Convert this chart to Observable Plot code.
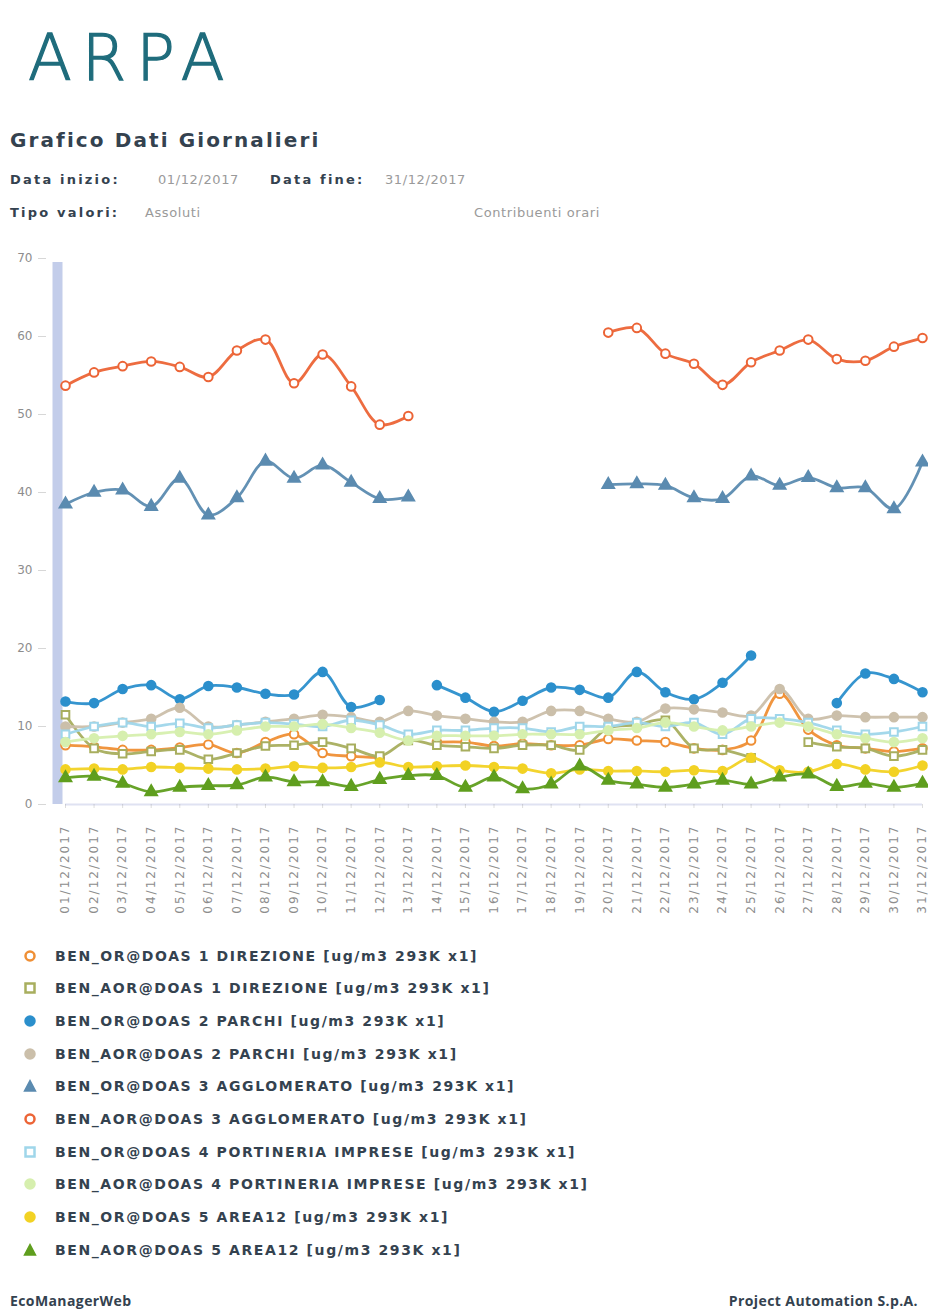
<!DOCTYPE html>
<html><head><meta charset="utf-8">
<script src="https://cdn.jsdelivr.net/npm/d3@7"></script>
<script src="https://cdn.jsdelivr.net/npm/@observablehq/plot@0.6"></script>
<style>
body{margin:0;background:#fff;width:928px;height:1312px;position:relative;overflow:hidden;font-family:"DejaVu Sans",Verdana,sans-serif;}
.abs{position:absolute;white-space:nowrap;line-height:1;}
.logo{font-family:"DejaVu Sans",sans-serif;font-weight:200;font-size:64px;color:#1f6c7c;letter-spacing:10px;-webkit-text-stroke:1.3px #1f6c7c;}
.title{font-weight:bold;font-size:20px;color:#34424f;letter-spacing:2.1px;}
.lab{font-weight:bold;font-size:13px;color:#34424f;letter-spacing:2.2px;}
.val{font-size:13px;color:#9a9a9a;letter-spacing:0.6px;}
.leg{font-weight:bold;font-size:14px;color:#34424f;letter-spacing:1.6px;}
.foot{font-family:"Open Sans",sans-serif;font-weight:700;font-size:14px;color:#34424f;letter-spacing:0.4px;}
</style></head><body>
<div class="abs logo" style="left:28px;top:26px;">ARPA</div>
<div class="abs title" style="left:10px;top:130px">Grafico Dati Giornalieri</div>
<div class="abs lab" style="left:10px;top:173px">Data inizio:</div>
<div class="abs val" style="left:158px;top:173px">01/12/2017</div>
<div class="abs lab" style="left:270px;top:173px">Data fine:</div>
<div class="abs val" style="left:385px;top:173px">31/12/2017</div>
<div class="abs lab" style="left:10px;top:206px">Tipo valori:</div>
<div class="abs val" style="left:145px;top:206px">Assoluti</div>
<div class="abs val" style="left:474px;top:206px">Contribuenti orari</div>
<div id="chart" class="abs" style="left:0;top:240px"></div>
<div id="legend" class="abs" style="left:0;top:947px;width:928px;"></div>
<div class="abs foot" style="left:10px;top:1294px">EcoManagerWeb</div>
<div class="abs foot" style="right:10px;top:1294px">Project Automation S.p.A.</div>
<script>
// ---- data ----
const dates = ["01/12/2017","02/12/2017","03/12/2017","04/12/2017","05/12/2017","06/12/2017","07/12/2017","08/12/2017","09/12/2017","10/12/2017","11/12/2017","12/12/2017","13/12/2017","14/12/2017","15/12/2017","16/12/2017","17/12/2017","18/12/2017","19/12/2017","20/12/2017","21/12/2017","22/12/2017","23/12/2017","24/12/2017","25/12/2017","26/12/2017","27/12/2017","28/12/2017","29/12/2017","30/12/2017","31/12/2017"];
const yTicks = [0,10,20,30,40,50,60,70];
const seriesNames = [
  "BEN_OR@DOAS 1 DIREZIONE [ug/m3 293K x1]",
  "BEN_AOR@DOAS 1 DIREZIONE [ug/m3 293K x1]",
  "BEN_OR@DOAS 2 PARCHI [ug/m3 293K x1]",
  "BEN_AOR@DOAS 2 PARCHI [ug/m3 293K x1]",
  "BEN_OR@DOAS 3 AGGLOMERATO [ug/m3 293K x1]",
  "BEN_AOR@DOAS 3 AGGLOMERATO [ug/m3 293K x1]",
  "BEN_OR@DOAS 4 PORTINERIA IMPRESE [ug/m3 293K x1]",
  "BEN_AOR@DOAS 4 PORTINERIA IMPRESE [ug/m3 293K x1]",
  "BEN_OR@DOAS 5 AREA12 [ug/m3 293K x1]",
  "BEN_AOR@DOAS 5 AREA12 [ug/m3 293K x1]"
];
const or1  = [7.6,7.4,7.0,7.0,7.3,7.7,6.6,8.0,9.0,6.6,6.2,6.0,null,8.0,8.0,7.5,7.8,7.6,7.6,8.4,8.2,8.0,7.2,7.0,8.2,14.2,9.6,7.6,7.2,6.8,7.2];
const aor1 = [11.5,7.2,6.5,6.8,7.0,5.8,6.6,7.5,7.6,8.0,7.2,6.2,8.2,7.6,7.4,7.2,7.6,7.6,7.0,9.8,10.2,10.8,7.2,7.0,6.0,null,8.0,7.4,7.2,6.2,7.0];
const or2  = [13.2,13.0,14.8,15.3,13.5,15.2,15.0,14.2,14.1,17.0,12.5,13.4,null,15.3,13.7,11.9,13.3,15.0,14.7,13.7,17.0,14.4,13.5,15.6,19.1,null,null,13.0,16.8,16.1,14.4];
const aor2 = [10.0,10.0,10.5,11.0,12.4,10.0,10.2,10.6,11.0,11.5,11.2,10.6,12.0,11.4,11.0,10.6,10.6,12.0,12.0,11.0,10.6,12.3,12.2,11.8,11.4,14.8,11.0,11.4,11.2,11.2,11.2];
const or3  = [38.5,40.0,40.3,38.2,41.8,37.1,39.3,44.0,41.8,43.5,41.3,39.2,39.4,null,null,null,null,null,null,41.0,41.1,40.9,39.3,39.2,42.1,40.9,41.9,40.6,40.6,37.9,43.9];
const aor3 = [53.7,55.4,56.2,56.8,56.1,54.8,58.2,59.6,54.0,57.7,53.6,48.7,49.8,null,null,null,null,null,null,60.5,61.1,57.8,56.5,53.8,56.7,58.2,59.6,57.1,56.9,58.7,59.8];
const or4  = [9.0,10.0,10.5,10.0,10.4,9.8,10.2,10.5,10.3,10.0,10.8,10.2,9.0,9.5,9.5,9.8,9.8,9.3,10.0,10.0,10.5,10.0,10.5,9.0,11.0,11.0,10.5,9.5,9.0,9.3,10.0];
const aor4 = [8.0,8.5,8.8,9.0,9.3,9.0,9.5,10.0,10.0,10.3,9.8,9.2,8.2,8.8,8.8,8.8,9.0,9.0,9.0,9.5,9.8,10.5,10.0,9.5,10.0,10.5,10.0,9.0,8.5,8.0,8.5];
const or5  = [4.5,4.6,4.5,4.8,4.7,4.6,4.5,4.6,4.9,4.7,4.8,5.4,4.8,4.9,5.0,4.8,4.6,4.0,4.5,4.3,4.3,4.2,4.4,4.3,6.0,4.4,4.2,5.2,4.5,4.2,5.0];
const aor5 = [3.4,3.6,2.7,1.6,2.2,2.4,2.5,3.5,2.9,2.9,2.3,3.2,3.7,3.7,2.2,3.5,2.0,2.6,4.9,3.1,2.6,2.2,2.6,3.1,2.6,3.5,3.9,2.3,2.7,2.2,2.7];

const seriesValues = [or1, aor1, or2, aor2, or3, aor3, or4, aor4, or5, aor5];
const seriesColors = ["#ef8f35","#a8ae5e","#2b8fcc","#cbbfaa","#5b8bb0","#ec6436","#9fd6ea","#d6efae","#f2d224","#5f9e1e"];
const seriesSymbols = ["circle","square","circle","circle","triangle","circle","square","circle","circle","triangle"];
const seriesHollow = [true,true,false,false,false,true,true,false,false,false];

// ---- chart ----
const dayIdx = dates.map((d, i) => i);
const marks = [
  Plot.ruleX([0], {y1: 0, y2: 69.5, stroke: "#c3cdea", strokeWidth: 10, dx: -8}),
  Plot.ruleY([0], {stroke: "#dfe2f2", strokeWidth: 2}),
  Plot.axisY({ticks: yTicks, dx: -19, tickSize: 8, tickPadding: 6, fontSize: 12, color: "#8d8d8d", strokeOpacity: 0.35}),
  Plot.axisX({ticks: dayIdx, tickFormat: i => dates[i], tickRotate: -90, tickSize: 4, tickPadding: 16, fontSize: 12, color: "#8d8d8d", strokeOpacity: 0.3, label: null})
];
seriesValues.forEach((vals, i) => {
  const rows = dates.map((d, j) => ({day: j, value: vals[j]}));
  marks.push(Plot.line(rows, {x: "day", y: "value", stroke: seriesColors[i], strokeWidth: 2.8, curve: "catmull-rom", strokeOpacity: 0.95}));
  marks.push(Plot.dot(rows.filter(r => r.value != null), {
    x: "day", y: "value", symbol: seriesSymbols[i], r: 4.3,
    fill: seriesHollow[i] ? "#ffffff" : seriesColors[i],
    stroke: seriesColors[i], strokeWidth: 2
  }));
});

const chart = Plot.plot({
  width: 928, height: 700,
  marginTop: 18, marginBottom: 136, marginLeft: 65, marginRight: 6,
  x: {type: "linear", domain: [0, dates.length - 1], range: [65, 922], label: null},
  y: {domain: [0, 70], label: null},
  style: {fontFamily: "DejaVu Sans, sans-serif", background: "transparent", overflow: "visible"},
  marks
});
chart.querySelectorAll('[aria-label="x-axis tick label"] text').forEach(t => t.setAttribute("letter-spacing", "2"));
document.getElementById("chart").appendChild(chart);

// ---- legend ----
const legend = document.getElementById("legend");
seriesNames.forEach((name, i) => {
  const row = document.createElement("div");
  row.className = "abs";
  row.style.left = "22px";
  row.style.top = (i * 32.7) + "px";
  const c = seriesColors[i];
  const fill = seriesHollow[i] ? "#fff" : c;
  let shape;
  if (seriesSymbols[i] === "circle") shape = `<circle cx="8" cy="8" r="4.5" fill="${fill}" stroke="${c}" stroke-width="2.5"/>`;
  else if (seriesSymbols[i] === "square") shape = `<rect x="3.5" y="3.5" width="9" height="9" fill="${fill}" stroke="${c}" stroke-width="2.5"/>`;
  else shape = `<path d="M8 2.5 L13.5 13 L2.5 13 Z" fill="${fill}" stroke="${c}" stroke-width="1.5"/>`;
  row.innerHTML = `<svg width="16" height="16" style="vertical-align:middle">${shape}</svg><span class="leg" style="margin-left:17px;vertical-align:middle">${name}</span>`;
  legend.appendChild(row);
});
</script>
</body></html>
